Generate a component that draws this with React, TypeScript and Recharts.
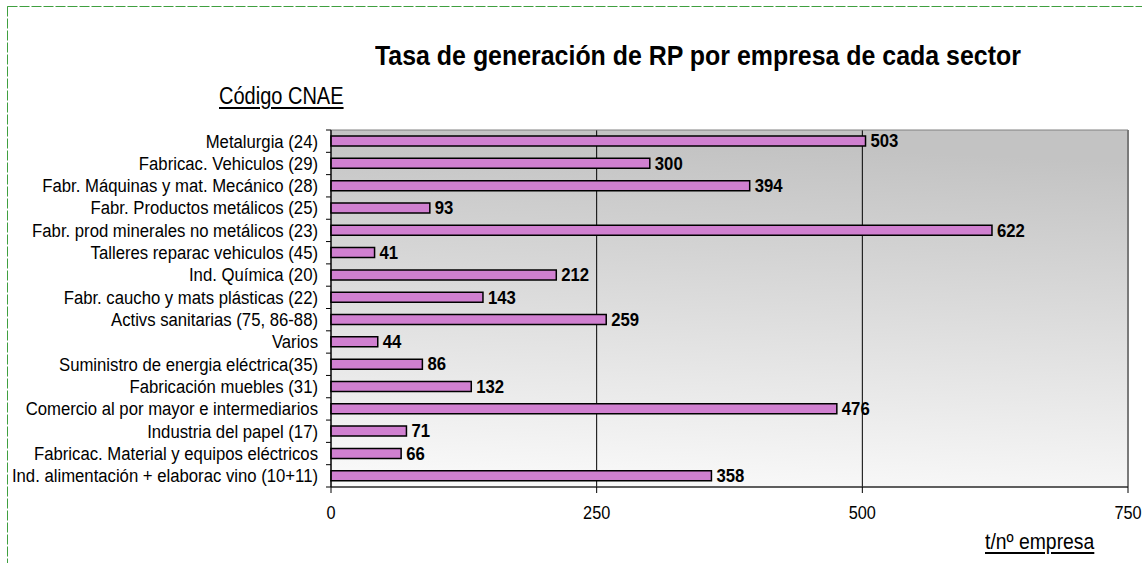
import React from "react";
import {
  BarChart,
  Bar,
  XAxis,
  YAxis,
  CartesianGrid,
  ReferenceLine,
  ReferenceArea,
  LabelList,
} from "recharts";

const sectors = [
  "Metalurgia  (24)",
  "Fabricac. Vehiculos (29)",
  "Fabr. Máquinas y mat. Mecánico (28)",
  "Fabr. Productos metálicos (25)",
  "Fabr. prod minerales no metálicos (23)",
  "Talleres reparac vehiculos (45)",
  "Ind. Química (20)",
  "Fabr. caucho y mats plásticas (22)",
  "Activs sanitarias (75, 86-88)",
  "Varios",
  "Suministro de energia eléctrica(35)",
  "Fabricación muebles (31)",
  "Comercio al por mayor e intermediarios",
  "Industria del papel (17)",
  "Fabricac. Material y equipos eléctricos",
  "Ind. alimentación + elaborac vino (10+11)",
];

const rates = [503, 300, 394, 93, 622, 41, 212, 143, 259, 44, 86, 132, 476, 71, 66, 358];

const xTicks = [0, 250, 500, 750];

const data = sectors.map((name, i) => ({ name, v: rates[i] }));

// layout
const W = 1142;
const H = 563;
const PLOT_LEFT = 331;
const PLOT_TOP = 130;
const PLOT_BOTTOM = 487;
const BAND = (PLOT_BOTTOM - PLOT_TOP) / sectors.length;
const SX = 0.88; // original text looks horizontally squeezed
const FONT = "'Liberation Sans', Arial, sans-serif";

function CategoryTick({ y, payload, index }: any) {
  const top = y - BAND / 2;
  const bottom = y + BAND / 2;
  return (
    <g>
      {index === 0 && <line x1={PLOT_LEFT - 5} x2={PLOT_LEFT} y1={top} y2={top} stroke="#000" />}
      <line x1={PLOT_LEFT - 5} x2={PLOT_LEFT} y1={bottom} y2={bottom} stroke="#000" />
      <g transform={`translate(${PLOT_LEFT - 13},${y})`}>
        <text
          transform={`scale(${SX},1)`}
          textAnchor="end"
          dominantBaseline="central"
          fontSize={19}
          fontFamily={FONT}
          fill="#000"
        >
          {payload.value}
        </text>
      </g>
    </g>
  );
}

function ValueTick({ x, payload }: any) {
  return (
    <g transform={`translate(${x},${PLOT_BOTTOM + 26})`}>
      <text
        transform={`scale(${SX},1)`}
        textAnchor="middle"
        dominantBaseline="central"
        fontSize={18.5}
        fontFamily={FONT}
        fill="#000"
      >
        {payload.value}
      </text>
    </g>
  );
}

function BarValue({ x, y, width, height, value }: any) {
  return (
    <g transform={`translate(${x + width + 5},${y + height / 2})`}>
      <text
        transform={`scale(${SX},1)`}
        dominantBaseline="central"
        fontSize={19}
        fontWeight="bold"
        fontFamily={FONT}
        fill="#000"
      >
        {value}
      </text>
    </g>
  );
}

const textBase: React.CSSProperties = {
  position: "absolute",
  whiteSpace: "nowrap",
  lineHeight: 1,
  fontFamily: FONT,
  color: "#000",
  transformOrigin: "left top",
};

export default function App() {
  return (
    <div
      style={{
        position: "absolute",
        left: 0,
        top: 0,
        width: W,
        height: H,
        overflow: "hidden",
        background: "#fff",
      }}
    >
      <svg width={0} height={0} style={{ position: "absolute" }}>
        <defs>
          <linearGradient id="plotBg" x1="0.1" y1="0" x2="0" y2="1">
            <stop offset="0%" stopColor="#c3c3c3" />
            <stop offset="100%" stopColor="#fbfbfb" />
          </linearGradient>
        </defs>
      </svg>

      <svg width={W} height={H} style={{ position: "absolute", left: 0, top: 0 }}>
        <rect
          x={7.5}
          y={6.5}
          width={W + 50}
          height={H + 50}
          fill="none"
          stroke="#3f9f3f"
          strokeWidth={1}
          strokeDasharray="10 2"
        />
      </svg>

      <div style={{ ...textBase, left: 375, top: 42, fontSize: 28, fontWeight: "bold", transform: `scaleX(0.89)` }}>
        Tasa de generación de RP por empresa de cada sector
      </div>
      <div
        style={{
          ...textBase,
          left: 219,
          top: 85,
          fontSize: 23,
          transform: `scaleX(0.87)`,
          textDecoration: "underline",
          textDecorationThickness: 2,
          textUnderlineOffset: 3,
        }}
      >
        Código CNAE
      </div>
      <div
        style={{
          ...textBase,
          left: 985,
          top: 531,
          fontSize: 22,
          transform: `scaleX(0.88)`,
          textDecoration: "underline",
          textDecorationThickness: 2,
          textUnderlineOffset: 3,
        }}
      >
        t/nº empresa
      </div>

      <div style={{ position: "absolute", left: 0, top: 0 }}>
        <BarChart
          width={W}
          height={H}
          data={data}
          layout="vertical"
          margin={{ top: PLOT_TOP, right: 14, bottom: 36, left: 0 }}
        >
          <CartesianGrid
            horizontal={false}
            vertical={true}
            stroke="#000"
            fill="url(#plotBg)"
            fillOpacity={1}
          />
          <XAxis
            type="number"
            domain={[0, 750]}
            ticks={xTicks}
            height={40}
            axisLine={{ stroke: "#000" }}
            tickLine={{ stroke: "#000" }}
            tickSize={6}
            tick={<ValueTick />}
            interval={0}
          />
          <YAxis
            type="category"
            dataKey="name"
            width={PLOT_LEFT}
            axisLine={{ stroke: "#000" }}
            tickLine={false}
            tick={<CategoryTick />}
            interval={0}
          />
          <Bar
            dataKey="v"
            barSize={10}
            fill="#d080d0"
            stroke="#000"
            strokeWidth={1.5}
            isAnimationActive={false}
          >
            <LabelList dataKey="v" content={<BarValue />} />
          </Bar>
          <ReferenceArea
            x1={0}
            x2={750}
            fill="none"
            stroke="#808080"
            strokeWidth={1}
            ifOverflow="visible"
          />
          <ReferenceLine x={750} stroke="#7a7a7a" strokeWidth={2} />
        </BarChart>
      </div>
    </div>
  );
}
